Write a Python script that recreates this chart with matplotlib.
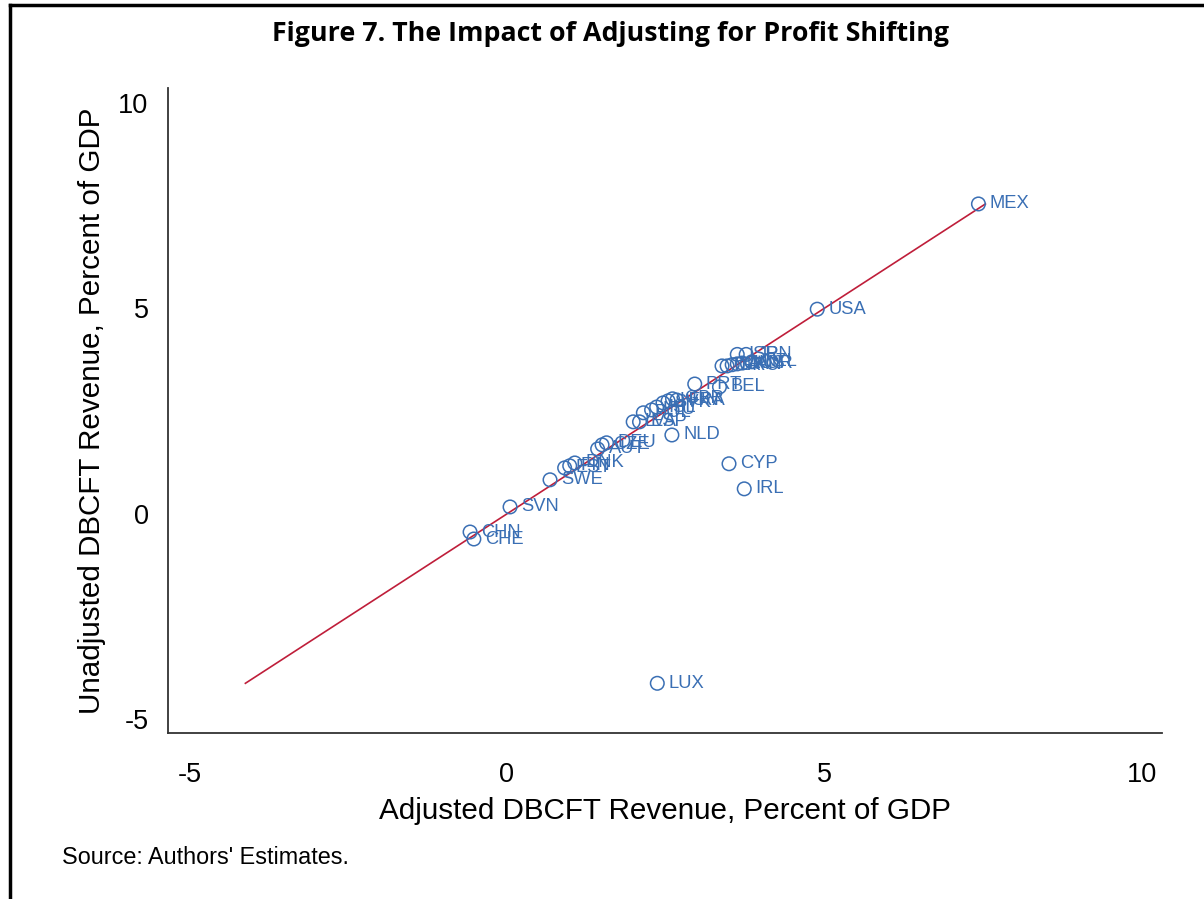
import numpy as np
import matplotlib.pyplot as plt
from matplotlib.lines import Line2D

# country codes with adjusted / unadjusted DBCFT revenue (percent of GDP)
countries = ["MEX", "USA", "JPN", "ISR", "ITA", "GRC", "CAN", "AUS", "KOR", "NZL",
             "PRT", "BEL", "FRA", "GBR", "HUN", "SVK", "ISL", "LTU", "POL", "ESP",
             "LVA", "NLD", "DEU", "CZE", "AUT", "DNK", "FIN", "EST", "SWE", "SVN",
             "CHN", "CHE", "CYP", "IRL", "LUX"]
adjusted = [7.43, 4.89, 3.77, 3.63, 3.39, 3.47, 3.55, 3.63, 3.71, 3.86,
            2.96, 3.35, 2.68, 2.61, 2.54, 2.46, 2.36, 2.28, 2.15, 2.09,
            1.99, 2.60, 1.57, 1.50, 1.43, 1.07, 0.99, 0.91, 0.68, 0.05,
            -0.58, -0.52, 3.50, 3.74, 2.37]
unadjusted = [7.54, 4.98, 3.88, 3.88, 3.60, 3.60, 3.63, 3.65, 3.67, 3.70,
              3.16, 3.09, 2.77, 2.80, 2.75, 2.70, 2.60, 2.53, 2.46, 2.24,
              2.24, 1.92, 1.73, 1.68, 1.58, 1.24, 1.17, 1.12, 0.83, 0.17,
              -0.44, -0.61, 1.22, 0.61, -4.12]

ticks = [-5, 0, 5, 10]
blue = "#3a6fb4"
red = "#bf1e3a"

plt.rcParams['font.family'] = ['Liberation Sans', 'DejaVu Sans']
plt.rcParams['axes.unicode_minus'] = False

fig = plt.figure(figsize=(12.04, 8.99), dpi=100)
ax = fig.add_axes([0.1395, 0.1846, 0.8255, 0.7175])

x = np.array(adjusted)
y = np.array(unadjusted)

# 45 degree line
lo = min(x.min(), y.min())
hi = max(x.max(), y.max())
ax.plot([lo, hi], [lo, hi], color=red, lw=1.2, zorder=1)

ax.scatter(x, y, s=95, facecolors='none', edgecolors=blue, linewidths=1.1, zorder=2)
for c, xi, yi in zip(countries, x, y):
    ax.annotate(c, (xi, yi), xytext=(8, 0), textcoords='offset points',
                va='center', ha='left', fontsize=13.2, color=blue)

ax.set_xlim(-5.34, 10.32)
ax.set_ylim(-5.33, 10.36)
ax.set_xticks(ticks)
ax.set_yticks(ticks)
ax.tick_params(axis='x', length=0, labelsize=19.5, pad=21)
ax.tick_params(axis='y', length=0, labelsize=19.5, pad=14)
ax.set_xlabel("Adjusted DBCFT Revenue, Percent of GDP", fontsize=21.3, labelpad=6)
ax.set_ylabel("Unadjusted DBCFT Revenue, Percent of GDP", fontsize=21.3, labelpad=9)
for s in ['top', 'right']:
    ax.spines[s].set_visible(False)
for s in ['left', 'bottom']:
    ax.spines[s].set_color('#333333')
    ax.spines[s].set_linewidth(1.3)

fig.text(0.507, 0.962, "Figure 7. The Impact of Adjusting for Profit Shifting",
         ha='center', va='center', fontsize=19.3, fontweight='bold',
         family=['Open Sans', 'DejaVu Sans'])
fig.text(0.0515, 0.046, "Source: Authors' Estimates.", ha='left', va='center', fontsize=16.8)

# outer frame (top and left edges)
fig.add_artist(Line2D([0.0083, 1.0], [0.9944, 0.9944], color='black', lw=2.5,
                      transform=fig.transFigure))
fig.add_artist(Line2D([0.0083, 0.0083], [0.0, 0.9944], color='black', lw=2.5,
                      transform=fig.transFigure))

fig.savefig("out.png", dpi=100)
